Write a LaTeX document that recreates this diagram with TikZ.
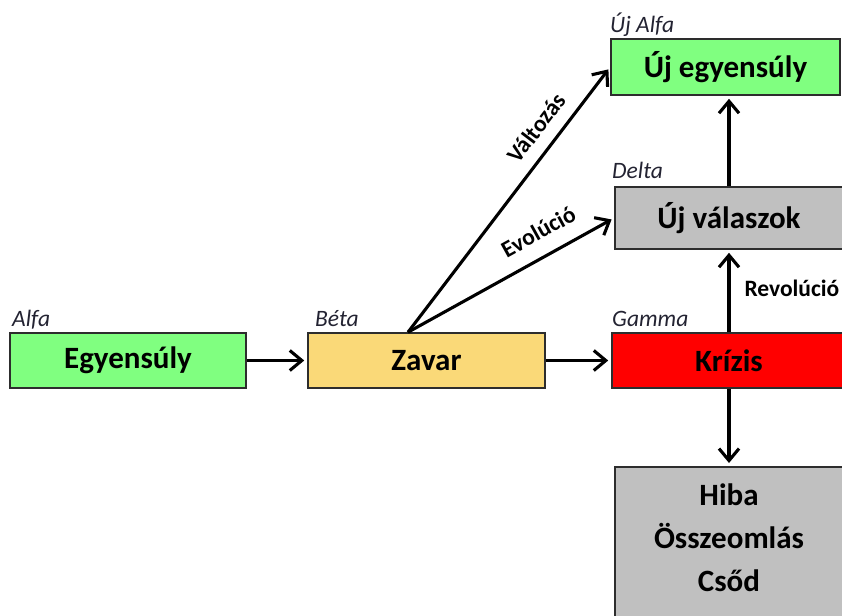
\documentclass[tikz,border=0pt]{standalone}
\usepackage{fontspec}
\setmainfont{Carlito}
\usetikzlibrary{arrows.meta,calc}
\definecolor{calmgreen}{RGB}{128,255,128}
\definecolor{sand}{RGB}{250,217,120}
\definecolor{alarm}{RGB}{255,0,0}
\definecolor{stone}{RGB}{192,192,192}
\definecolor{frame}{RGB}{45,45,45}
\definecolor{tagink}{RGB}{35,35,50}

\begin{document}
\begin{tikzpicture}[x=1pt,y=-1pt,
  stage/.style={draw=frame, line width=1.6pt, inner sep=0pt,
    font=\fontsize{31}{36}\selectfont\bfseries, text=black},
  tag/.style={anchor=base west, inner sep=0pt,
    font=\fontsize{23.5}{28}\selectfont\itshape, text=tagink},
  flow/.style={line width=3.1pt, shorten >=3pt,
    -{Straight Barb[length=12pt,width=20pt,line width=3.1pt]}},
  pathname/.style={font=\fontsize{23.5}{28}\selectfont\bfseries, inner sep=2pt}]
\useasboundingbox (0,0) rectangle (842,615);
\clip (0,0) rectangle (842,615);

% stages
\node[stage, fill=calmgreen, minimum width=236, minimum height=55] (eq) at (128,360.5) {Egyensúly};
\node[stage, fill=sand, minimum width=237, minimum height=55] (zavar) at (426.5,360.5) {Zavar};
\node[stage, fill=alarm, minimum width=234, minimum height=55] (krizis) at (729,360.5) {Krízis};
\node[stage, fill=stone, minimum width=228, minimum height=62] (valasz) at (729,218) {Új válaszok};
\node[stage, fill=calmgreen, minimum width=229, minimum height=56] (ujeq) at (725.5,67) {Új egyensúly};
\node[stage, fill=stone, anchor=north, font=\fontsize{31}{43}\selectfont\bfseries] (hiba) at (729,466)
  {\parbox[t][170pt][t]{228pt}{\centering\vspace*{17pt}Hiba\\Összeomlás\\Csőd}};

% stage tags
\node[tag] (talfa) at (12,326) {Alfa};
\node[tag] (tbeta) at (315,326) {Béta};
\node[tag] (tgamma) at (612,326) {Gamma};
\node[tag] (tdelta) at (612,178) {Delta};
\node[tag] (tujalfa) at (610,33) {Új Alfa};

% transitions
\coordinate (split) at ([xshift=-18.5pt]zavar.north);
\draw[flow] (eq) -- (zavar);
\draw[flow] (zavar) -- (krizis);
\draw[flow] (krizis) -- (valasz)
  node[pathname, midway, anchor=west, xshift=12pt, yshift=2.5pt] (trev) {Revolúció};
\draw[flow] (valasz.north) -- (valasz.north |- ujeq.south);
\draw[flow] (krizis) -- (hiba);
\draw[flow] (split) -- (ujeq.west)
  node[pathname, pos=0.72, sloped, above=10pt] (tvalt) {Változás};
\draw[flow] (split) -- (valasz.west)
  node[pathname, pos=0.69, sloped, above=13pt] (tevo) {Evolúció};
\end{tikzpicture}
\end{document}
